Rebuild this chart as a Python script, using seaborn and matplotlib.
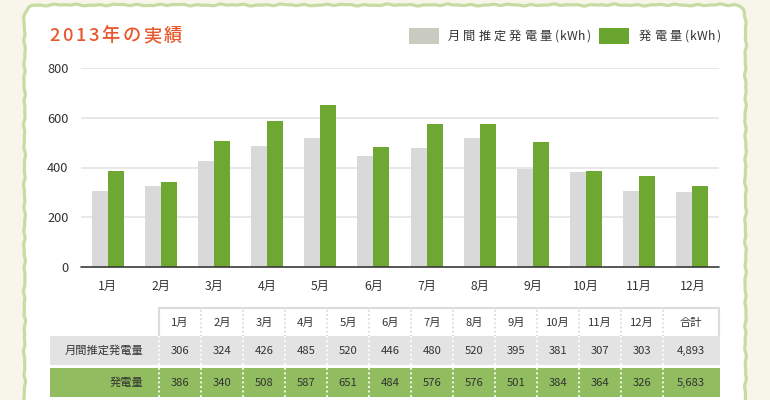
import numpy as np
import pandas as pd
import matplotlib
matplotlib.use("Agg")
import matplotlib.pyplot as plt
import seaborn as sns
from matplotlib.patches import Rectangle, Polygon

# ---- data ----
months = ["1月", "2月", "3月", "4月", "5月", "6月", "7月", "8月", "9月", "10月", "11月", "12月"]
estimated = [306, 324, 426, 485, 520, 446, 480, 520, 395, 381, 307, 303]
actual = [386, 340, 508, 587, 651, 484, 576, 576, 501, 384, 364, 326]
series_names = ["月間推定発電量(kWh)", "発電量(kWh)"]
row_labels = ["月間推定発電量", "発電量"]
total_label = "合計"
title = "2013年の実績"
yticks = [0, 200, 400, 600, 800]

sns.set_theme(style="white")
plt.rcParams["font.family"] = ["Noto Sans CJK JP", "DejaVu Sans"]

W, H = 770, 400
fig = plt.figure(figsize=(7.7, 4.0), dpi=100)
fig.patch.set_facecolor("#f8f6ea")

bg = fig.add_axes([0, 0, 1, 1])
bg.set_xlim(0, W)
bg.set_ylim(H, 0)
bg.axis("off")
bg.set_zorder(0)
renderer = fig.canvas.get_renderer()


def tracked(x, y, s, gap, latin_gap=None, **kw):
    """Draw string char by char with extra spacing (gap in px)."""
    if latin_gap is None:
        latin_gap = gap
    for i, ch in enumerate(s):
        t = bg.text(x, y, ch, ha="left", va="center", **kw)
        bb = t.get_window_extent(renderer=renderer)
        nxt = s[i + 1] if i + 1 < len(s) else ""
        if ord(ch) > 0x2e80 or nxt == "(":
            x += bb.width + gap
        else:
            x += bb.width + latin_gap
    return x


# wavy rounded frame
def frame_path(x0, y0, x1, y1, r, n=1600):
    def arc(cx, cy, a0, a1, m=30):
        a = np.linspace(a0, a1, m)
        return np.c_[cx + r*np.cos(a), cy + r*np.sin(a)]
    p = [np.c_[np.full(40, x0), np.linspace(y1, y0 + r, 40)],
         arc(x0 + r, y0 + r, np.pi, 1.5*np.pi),
         np.c_[np.linspace(x0 + r, x1 - r, 120), np.full(120, y0)],
         arc(x1 - r, y0 + r, 1.5*np.pi, 2*np.pi),
         np.c_[np.full(40, x1), np.linspace(y0 + r, y1, 40)]]
    P = np.vstack(p)
    d = np.r_[0, np.cumsum(np.hypot(*np.diff(P, axis=0).T))]
    s = np.linspace(0, d[-1], n)
    X = np.interp(s, d, P[:, 0]); Y = np.interp(s, d, P[:, 1])
    dx = np.gradient(X); dy = np.gradient(Y)
    L = np.hypot(dx, dy) + 1e-9
    nx, ny = -dy/L, dx/L
    w = 0.45*np.sin(s/3.3) + 0.35*np.sin(s/1.9 + 1.0) + 0.3*np.sin(s/8.7 + 2.0)
    return X + nx*w, Y + ny*w

fx, fy = frame_path(24.5, 5, 745.5, 430, 11)
bg.add_patch(Polygon(np.c_[fx, fy], closed=True, facecolor="white", edgecolor="none", zorder=1))
bg.plot(fx, fy, color="#c7dca3", lw=2.3, zorder=2, solid_capstyle="round")

# title
tracked(49, 36, title, 2.6, color="#e8582c", fontsize=13.2, fontweight="medium", zorder=3)

# legend
gray_leg, green_leg = "#c9cbc1", "#6aa62f"
bg.add_patch(Rectangle((409, 28), 30, 16, facecolor=gray_leg, edgecolor="none", zorder=3))
tracked(448, 36.5, series_names[0], 3.0, latin_gap=0.6, fontsize=8.8, color="#333333", zorder=3)
bg.add_patch(Rectangle((599, 28), 30, 16, facecolor=green_leg, edgecolor="none", zorder=3))
tracked(639, 36.5, series_names[1], 3.0, latin_gap=0.6, fontsize=8.8, color="#333333", zorder=3)

# ---- bar chart ----
ax = fig.add_axes([81/W, 1 - 267/H, 638/W, 199/H])
ax.set_zorder(2)
ax.patch.set_alpha(0)
df = pd.DataFrame({
    "month": months * 2,
    "value": estimated + actual,
    "series": [series_names[0]]*len(months) + [series_names[1]]*len(months),
})
sns.barplot(data=df, x="month", y="value", hue="series", order=months,
            hue_order=series_names, palette=["#d9d9d9", "#6ea832"],
            width=0.6, gap=0, saturation=1, legend=False, ax=ax, linewidth=0)
ax.set_xlim(-0.5, len(months) - 0.5)
ax.set_ylim(0, 800)
ax.set_yticks(yticks)
ax.set_yticklabels([str(v) for v in yticks])
for v in yticks[1:]:
    ax.axhline(v, color="#e4e4e4", lw=1.2, zorder=0)
ax.axhline(0, color="#3a3a3a", lw=1.2, zorder=3, clip_on=False)
for s in ax.spines.values():
    s.set_visible(False)
ax.set_xlabel("")
ax.set_ylabel("")
ax.tick_params(axis="both", length=0, colors="#333333")
ax.tick_params(axis="y", pad=9, labelsize=9.2)
ax.tick_params(axis="x", pad=9, labelsize=8.8)

# ---- table ----
col_x0 = 159
col_w = 42
tot_w = 56
right = col_x0 + col_w*len(months) + tot_w
hdr_y0, hdr_y1 = 308, 336
r1_y0, r1_y1 = 336, 365
r2_y0, r2_y1 = 368, 397
lab_x0 = 50

bg.add_patch(Rectangle((col_x0, hdr_y0), right - col_x0, hdr_y1 - hdr_y0 + 2,
                       facecolor="white", edgecolor="#dcdcdc", lw=1.6, zorder=3))
bg.add_patch(Rectangle((lab_x0, r1_y0), right - lab_x0 + 1, r1_y1 - r1_y0,
                       facecolor="#e3e3e3", edgecolor="none", zorder=4))
bg.add_patch(Rectangle((lab_x0, r2_y0), right - lab_x0 + 1, r2_y1 - r2_y0,
                       facecolor="#91bd60", edgecolor="none", zorder=4))

headers = months + [total_label]
centers = [col_x0 + col_w*(i + 0.5) for i in range(len(months))] + [col_x0 + col_w*len(months) + tot_w/2]
fs_tab = 8.1
for cx, h in zip(centers, headers):
    bg.text(cx, (hdr_y0 + hdr_y1)/2 + 1, h, ha="center", va="center", fontsize=fs_tab, color="#333333", zorder=6)

est_vals = [f"{v:,}" for v in estimated] + [f"{sum(estimated):,}"]
act_vals = [f"{v:,}" for v in actual] + [f"{sum(actual):,}"]
for cx, a, b in zip(centers, est_vals, act_vals):
    bg.text(cx, (r1_y0 + r1_y1)/2, a, ha="center", va="center", fontsize=fs_tab, color="#333333", zorder=6)
    bg.text(cx, (r2_y0 + r2_y1)/2, b, ha="center", va="center", fontsize=fs_tab, color="#333333", zorder=6)

bg.text(143, (r1_y0 + r1_y1)/2, row_labels[0], ha="right", va="center", fontsize=fs_tab, color="#333333", zorder=6)
bg.text(143, (r2_y0 + r2_y1)/2, row_labels[1], ha="right", va="center", fontsize=fs_tab, color="#333333", zorder=6)

# dotted separators
sep_x = [col_x0 + col_w*i for i in range(0, len(months) + 1)]
for i, x in enumerate(sep_x):
    if i > 0:
        bg.plot([x, x], [hdr_y0 + 2, hdr_y1], color="#d6d6d6", lw=1.2, ls=(0, (1, 1.5)), zorder=5)
    bg.plot([x, x], [r1_y0, r1_y1], color="white", lw=1.3, ls=(0, (1, 1.5)), zorder=5)
    bg.plot([x, x], [r2_y0, r2_y1], color="white", lw=1.3, ls=(0, (1, 1.5)), zorder=5)

fig.savefig("out.png", dpi=100, facecolor=fig.get_facecolor())
